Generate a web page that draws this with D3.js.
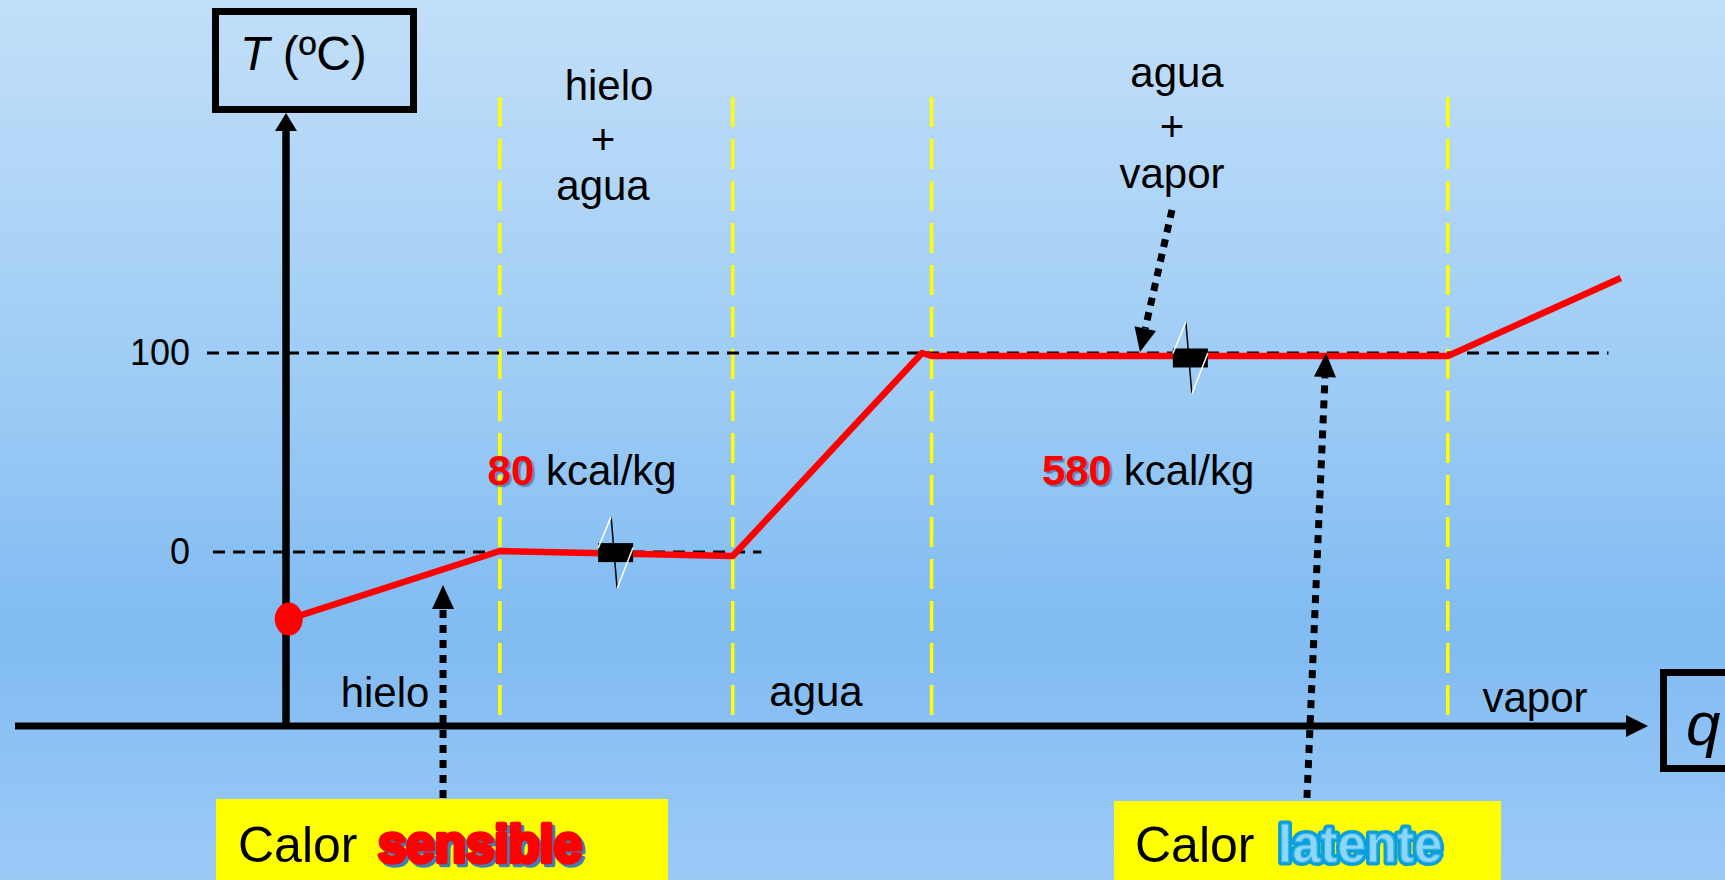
<!DOCTYPE html>
<html>
<head>
<meta charset="utf-8">
<script src="https://cdn.jsdelivr.net/npm/d3@7/dist/d3.min.js"></script>
<style>
body { margin: 0; overflow: hidden; }
svg { display: block; font-family: 'Liberation Sans', Arial, sans-serif; }
</style>
</head>
<body>
<svg id="svg" width="1725" height="880"></svg>
<script>
// heating curve of water, q in arbitrary units, T in degC
var qCurve = [0.2, 15.7, 32.8, 46.7, 47.4, 85.3, 98.0];
var tCurve = [-33.7, 0.5, -2, 100, 98.5, 98.5, 137.7];

var phaseLimits = [15.7, 32.8, 47.4, 85.3];
var refTemps = [0, 100];
var refLabels = ['0', '100'];
var refEnds = [34.9, 97.1];

var breakQ = [24.2, 66.4];
var breakT = [-0.3, 97.5];

var latentValues = ['80', '580'];
var latentQ = [14.8, 55.5];

// arrows: from (q0,t0) to the tip (q1,t1)
var arrowQ0 = [11.53, 65.05, 74.96];
var arrowT0 = [-123.6, 171.9, -123.6];
var arrowQ1 = [11.53, 62.7, 76.36];
var arrowT1 = [-16.6, 100.5, 100];

var width = 1725;
var height = 880;

var x = d3.scaleLinear().domain([0, 100]).range([286, 1648]);
var y = d3.scaleLinear().domain([0, 100]).range([552, 353]);

var axisY = 726;

var svg = d3.select('svg');

var defs = svg.append('defs');
var grad = defs.append('linearGradient')
    .attr('id', 'bg')
    .attr('x1', 0).attr('y1', 0).attr('x2', 0).attr('y2', 1);
grad.append('stop').attr('offset', '0%').attr('stop-color', '#c2dff9');
grad.append('stop').attr('offset', '45%').attr('stop-color', '#9ccbf5');
grad.append('stop').attr('offset', '72%').attr('stop-color', '#80bbf2');
grad.append('stop').attr('offset', '100%').attr('stop-color', '#9ccaf7');

svg.append('rect')
    .attr('width', width)
    .attr('height', height)
    .attr('fill', 'url(#bg)');

// yellow phase limits
svg.selectAll('.phase')
    .data(phaseLimits)
    .enter()
    .append('line')
    .attr('class', 'phase')
    .attr('x1', function(d){ return x(d); })
    .attr('x2', function(d){ return x(d); })
    .attr('y1', 97)
    .attr('y2', axisY)
    .attr('stroke', '#ffff00')
    .attr('stroke-width', 3.5)
    .attr('stroke-dasharray', '30,12');

// dashed reference lines at 0 and 100
svg.selectAll('.ref')
    .data(refTemps)
    .enter()
    .append('line')
    .attr('class', 'ref')
    .attr('x1', function(d, i){ return i == 0 ? 213 : 207; })
    .attr('x2', function(d, i){ return x(refEnds[i]); })
    .attr('y1', function(d){ return y(d); })
    .attr('y2', function(d){ return y(d); })
    .attr('stroke', 'black')
    .attr('stroke-width', 3)
    .attr('stroke-dasharray', '12,8');

svg.selectAll('.refLabel')
    .data(refTemps)
    .enter()
    .append('text')
    .attr('class', 'refLabel')
    .text(function(d, i){ return refLabels[i]; })
    .attr('x', 190)
    .attr('y', function(d){ return y(d) + 12; })
    .attr('text-anchor', 'end')
    .attr('font-size', 36)
    .attr('fill', 'black');

// axes
svg.append('line')
    .attr('x1', 15).attr('x2', 1630)
    .attr('y1', axisY).attr('y2', axisY)
    .attr('stroke', 'black')
    .attr('stroke-width', 7);
svg.append('path')
    .attr('d', 'M1626,' + (axisY - 11) + 'L1648,' + axisY + 'L1626,' + (axisY + 11) + 'Z')
    .attr('fill', 'black');

svg.append('line')
    .attr('x1', 286).attr('x2', 286)
    .attr('y1', axisY + 3).attr('y2', 128)
    .attr('stroke', 'black')
    .attr('stroke-width', 7.5);
svg.append('path')
    .attr('d', 'M275,131L286,113L297,131Z')
    .attr('fill', 'black');

// axis title boxes
svg.append('rect')
    .attr('x', 215.5).attr('y', 11.5)
    .attr('width', 198).attr('height', 98)
    .attr('fill', 'none')
    .attr('stroke', 'black')
    .attr('stroke-width', 7);
var tTitle = svg.append('text')
    .attr('x', 240).attr('y', 70)
    .attr('font-size', 48)
    .attr('fill', 'black');
tTitle.append('tspan').attr('font-style', 'italic').text('T');
tTitle.append('tspan').text(' (ºC)');

svg.append('rect')
    .attr('x', 1663.5).attr('y', 672.5)
    .attr('width', 100).attr('height', 96)
    .attr('fill', 'none')
    .attr('stroke', 'black')
    .attr('stroke-width', 7);
svg.append('text')
    .text('q')
    .attr('x', 1686).attr('y', 745)
    .attr('font-size', 62)
    .attr('font-style', 'italic')
    .attr('fill', 'black');

// heating curve
var curve = qCurve.map(function(d, i){ return [x(d), y(tCurve[i])]; });
svg.append('path')
    .attr('d', d3.line()(curve))
    .attr('fill', 'none')
    .attr('stroke', '#ff0000')
    .attr('stroke-width', 6.5)
    .attr('stroke-linejoin', 'round');

svg.append('ellipse')
    .attr('cx', x(qCurve[0]))
    .attr('cy', y(tCurve[0]))
    .attr('rx', 14)
    .attr('ry', 16.5)
    .attr('fill', '#ff0000');

// axis break symbols on the plateaus
breakQ.forEach(function(q, i){
    var cx = x(q);
    var cy = y(breakT[i]);
    var g = svg.append('g').attr('transform', 'translate(' + cx + ',' + cy + ')');
    g.append('rect')
        .attr('x', -17.5).attr('y', -9.5)
        .attr('width', 35).attr('height', 19)
        .attr('fill', 'black');
    g.append('line')
        .attr('x1', -4.5).attr('y1', -36)
        .attr('x2', 1.5).attr('y2', 36)
        .attr('stroke', 'black').attr('stroke-width', 1.5);
    g.append('line')
        .attr('x1', -4.5).attr('y1', -36)
        .attr('x2', -17.5).attr('y2', -4.5)
        .attr('stroke', 'white').attr('stroke-width', 1.5);
    g.append('line')
        .attr('x1', 17.5).attr('y1', -5)
        .attr('x2', 1.5).attr('y2', 36)
        .attr('stroke', 'white').attr('stroke-width', 1.5);
});

// dotted arrows
arrowQ0.forEach(function(q0, i){
    var x0 = x(q0), y0 = y(arrowT0[i]);
    var x1 = x(arrowQ1[i]), y1 = y(arrowT1[i]);
    var len = Math.sqrt((x1 - x0) * (x1 - x0) + (y1 - y0) * (y1 - y0));
    var ux = (x1 - x0) / len, uy = (y1 - y0) / len;
    var head = 24, half = 11;
    var bx = x1 - ux * head, by = y1 - uy * head;
    svg.append('line')
        .attr('x1', x0).attr('y1', y0)
        .attr('x2', bx).attr('y2', by)
        .attr('stroke', 'black')
        .attr('stroke-width', 7)
        .attr('stroke-dasharray', '8,7');
    svg.append('path')
        .attr('d', 'M' + x1 + ',' + y1 +
            'L' + (bx - uy * half) + ',' + (by + ux * half) +
            'L' + (bx + uy * half) + ',' + (by - ux * half) + 'Z')
        .attr('fill', 'black');
});

// phase labels
function stack(lines, cx, ys){
    lines.forEach(function(s, i){
        svg.append('text')
            .text(s)
            .attr('x', cx[i])
            .attr('y', ys[i])
            .attr('text-anchor', 'middle')
            .attr('font-size', 42)
            .attr('fill', 'black');
    });
}
stack(['hielo', '+', 'agua'], [609, 603, 603], [100, 154, 200]);
stack(['agua', '+', 'vapor'], [1177, 1172, 1172], [87, 141, 188]);
stack(['hielo', 'agua', 'vapor'], [385, 816, 1535], [707, 706, 712]);

// latent heat labels
latentValues.forEach(function(v, i){
    var t = svg.append('text')
        .attr('x', x(latentQ[i]))
        .attr('y', 485)
        .attr('font-size', 42)
        .attr('fill', 'black');
    t.append('tspan')
        .text(v)
        .attr('font-weight', 'bold')
        .attr('fill', '#ff0000')
        .style('text-shadow', '2px 2px 1px rgba(40,90,150,0.6)');
    t.append('tspan').text(' kcal/kg');
});

// yellow caption boxes
svg.append('rect')
    .attr('x', 216).attr('y', 799)
    .attr('width', 452).attr('height', 81)
    .attr('fill', '#ffff00');
svg.append('rect')
    .attr('x', 1114).attr('y', 801)
    .attr('width', 387).attr('height', 79)
    .attr('fill', '#ffff00');

svg.append('text')
    .text('Calor')
    .attr('x', 238).attr('y', 862)
    .attr('font-size', 50)
    .attr('fill', 'black');
svg.append('text')
    .text('sensible')
    .attr('x', 381).attr('y', 865)
    .attr('font-size', 51)
    .attr('font-weight', 'bold')
    .attr('fill', '#3f7fb8')
    .attr('stroke', '#3f7fb8')
    .attr('stroke-width', 4.5)
    .attr('stroke-linejoin', 'round');
svg.append('text')
    .text('sensible')
    .attr('x', 378).attr('y', 862)
    .attr('font-size', 51)
    .attr('font-weight', 'bold')
    .attr('fill', '#ff0000')
    .attr('stroke', '#ff0000')
    .attr('stroke-width', 4.5)
    .attr('stroke-linejoin', 'round');

svg.append('text')
    .text('Calor')
    .attr('x', 1135).attr('y', 862)
    .attr('font-size', 50)
    .attr('fill', 'black');
svg.append('text')
    .text('latente')
    .attr('x', 1278).attr('y', 862)
    .attr('font-size', 51)
    .attr('font-weight', 'bold')
    .attr('fill', '#8ed6f8')
    .attr('stroke', '#0a9fdc')
    .attr('stroke-width', 7)
    .attr('paint-order', 'stroke')
    .attr('stroke-linejoin', 'round');
svg.append('text')
    .text('latente')
    .attr('x', 1278).attr('y', 862)
    .attr('font-size', 51)
    .attr('font-weight', 'bold')
    .attr('fill', 'none')
    .attr('stroke', '#2fb2e6')
    .attr('stroke-width', 1.2);
</script>
</body>
</html>
